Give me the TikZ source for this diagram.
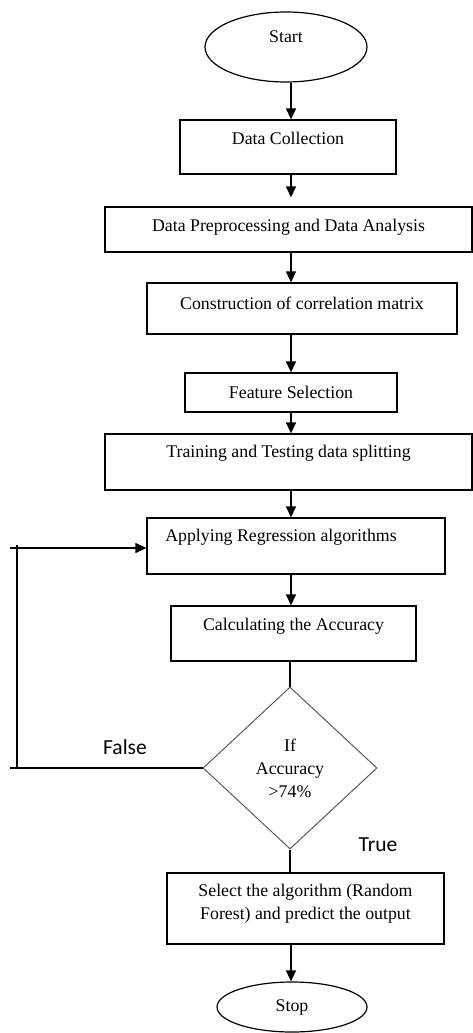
\documentclass[tikz,border=0pt]{standalone}
\usepackage{fontspec}
\setmainfont{Liberation Serif}
\newfontfamily\lblfont{Carlito}
\usetikzlibrary{shapes.geometric,arrows.meta}
\begin{document}
\begin{tikzpicture}[x=1pt,y=-1pt,
  font=\fontsize{17.8}{23}\selectfont,
  box/.style={draw, line width=1.3pt, rectangle, inner sep=0pt},
  oval/.style={draw, line width=1.2pt, ellipse, inner sep=0pt},
  txt/.style={inner sep=0pt, align=center},
  arr/.style={line width=1.3pt, -{Triangle[width=10pt,length=11pt]}},
  ln/.style={line width=1.3pt},
  sidelbl/.style={inner sep=0pt, font=\lblfont\fontsize{21.5}{24}\selectfont}]
\useasboundingbox (0,0) rectangle (473,1033);
\coordinate (ax) at (291,0);

\node[oval, minimum width=162pt, minimum height=70pt, label={[txt,yshift=10pt]center:Start}] (start) at (286,47) {};
\node[box, minimum width=216pt, minimum height=54pt, label={[txt,yshift=9pt]center:Data Collection}] (dc) at (288,147) {};
\node[box, minimum width=367pt, minimum height=45pt, label={[txt,yshift=2.5pt]center:Data Preprocessing and Data Analysis}] (pp) at (288.5,229.5) {};
\node[box, minimum width=310pt, minimum height=51pt, label={[txt,yshift=5.5pt]center:Construction of correlation matrix}] (co) at (302,308.5) {};
\node[box, minimum width=212pt, minimum height=39pt, label={[txt]center:Feature Selection}] (fs) at (291,392.5) {};
\node[box, minimum width=367pt, minimum height=56pt, label={[txt,yshift=9pt]center:Training and Testing data splitting}] (tr) at (288.5,462) {};
\node[box, minimum width=298pt, minimum height=56pt, label={[txt,yshift=9pt,xshift=-15pt]center:Applying Regression algorithms}] (ap) at (296,546) {};
\node[box, minimum width=245pt, minimum height=55pt, label={[txt,yshift=7.5pt]center:Calculating the Accuracy}] (ca) at (293.5,633.5) {};
\node[draw=black!65, line width=1pt, diamond, minimum width=174pt, minimum height=162pt, inner sep=0pt, align=center] (dec) at (290,768) {If\\Accuracy\\>74\%};
\node[box, minimum width=277pt, minimum height=71pt, label={[txt,yshift=5pt]center:Select the algorithm (Random\\Forest) and predict the output}] (se) at (305.5,908.5) {};
\node[oval, minimum width=150pt, minimum height=50pt] (stop) at (292,1007) {Stop};

\node[sidelbl] (fl) at (125,747) {False};
\node[sidelbl] (tl) at (378,845) {True};

\draw[arr] (start.south -| ax) -- (dc.north -| ax);
\draw[arr, shorten >=9pt] (dc.south -| ax) -- (pp.north -| ax);
\draw[arr] (pp.south -| ax) -- (co.north -| ax);
\draw[arr] (co.south -| ax) -- (fs.north -| ax);
\draw[arr] (fs.south -| ax) -- (tr.north -| ax);
\draw[arr] (tr.south -| ax) -- (ap.north -| ax);
\draw[arr] (ap.south -| ax) -- (ca.north -| ax);
\draw[ln] (ca.south -| dec.north) -- (dec.north);
\draw[ln] (dec.south) -- (se.north -| dec.south);
\draw[arr] (se.south -| ax) -- (stop.north -| ax);

\coordinate (lb) at (10,768);
\coordinate (lt) at (10,548);
\coordinate (vb) at (17,768);
\coordinate (vt) at (17,545);
\draw[ln] (dec.west) -- (lb);
\draw[ln] (vb) -- (vt);
\draw[arr] (lt) -- (lt -| ap.west);
\end{tikzpicture}
\end{document}
